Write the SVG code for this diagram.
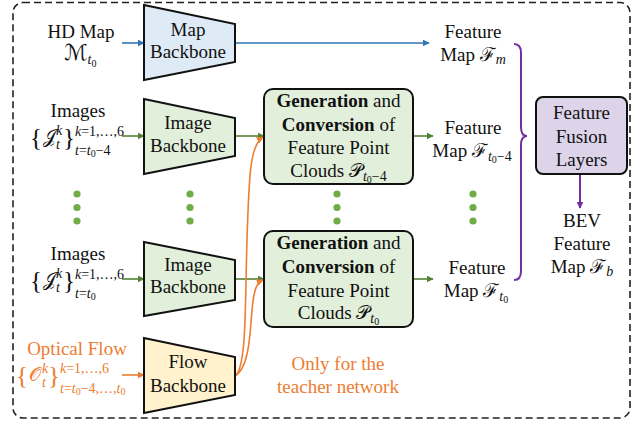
<svg xmlns="http://www.w3.org/2000/svg" width="640" height="421" viewBox="0 0 640 421" font-family="'Liberation Serif', 'Times New Roman', Times, serif">
<defs>
<marker id="ab" viewBox="0 0 10 10" refX="9" refY="5" markerWidth="7" markerHeight="7" markerUnits="userSpaceOnUse" orient="auto"><path d="M0,0 L10,5 L0,10 z" fill="#2e75b6"/></marker>
<marker id="ag" viewBox="0 0 10 10" refX="9" refY="5" markerWidth="7" markerHeight="7" markerUnits="userSpaceOnUse" orient="auto"><path d="M0,0 L10,5 L0,10 z" fill="#548235"/></marker>
<marker id="ao" viewBox="0 0 10 10" refX="9" refY="5" markerWidth="7" markerHeight="7" markerUnits="userSpaceOnUse" orient="auto"><path d="M0,0 L10,5 L0,10 z" fill="#ed7d31"/></marker>
<marker id="ap" viewBox="0 0 10 10" refX="9" refY="5" markerWidth="7" markerHeight="7" markerUnits="userSpaceOnUse" orient="auto"><path d="M0,0 L10,5 L0,10 z" fill="#7030a0"/></marker>
</defs>
<style>
text{font-family:'Liberation Serif','Times New Roman',Times,serif;font-size:19px;fill:#111}
.c{text-anchor:middle}
.m{font-family:'Liberation Serif','DejaVu Serif','DejaVu Sans',serif}
.i{font-style:italic}
.s{font-size:14px}
.ss{font-size:10px}
.br{font-size:25px}
.or{fill:#ed7d31}
.b{font-weight:bold}
.bb{stroke:#111;stroke-width:2;stroke-linejoin:miter}
.blue{fill:#deebf7}
.green{fill:#e2efda}
.yel{fill:#fff2cc}
.pur{fill:#ddd4ea}
.dot{fill:#70ad47}
.lb{stroke:#2e75b6;stroke-width:1.6;fill:none}
.lg{stroke:#548235;stroke-width:1.6;fill:none}
.lo{stroke:#ed7d31;stroke-width:1.6;fill:none}
.lp{stroke:#7030a0;stroke-width:2;fill:none}
</style>
<rect x="13" y="2.5" width="617" height="415.5" rx="10" fill="none" stroke="#222" stroke-width="1.6" stroke-dasharray="7 4"/>

<g id="connectors">
<line class="lb" x1="122" y1="43" x2="144" y2="43" marker-end="url(#ab)"/>
<line class="lb" x1="235" y1="43" x2="429" y2="43" marker-end="url(#ab)"/>
<line class="lg" x1="122" y1="136" x2="144" y2="136" marker-end="url(#ag)"/>
<line class="lg" x1="235" y1="136" x2="264" y2="136" marker-end="url(#ag)"/>
<line class="lg" x1="413" y1="136" x2="433" y2="136" marker-end="url(#ag)"/>
<line class="lg" x1="122" y1="279" x2="144" y2="279" marker-end="url(#ag)"/>
<line class="lg" x1="235" y1="279" x2="264" y2="279" marker-end="url(#ag)"/>
<line class="lg" x1="413" y1="279" x2="433" y2="279" marker-end="url(#ag)"/>
<line class="lo" x1="122" y1="375" x2="144" y2="375" marker-end="url(#ao)"/>
<path class="lo" d="M235,376 C247,368 245,300 247,240 C249,175 250,145 263,137" marker-end="url(#ao)"/>
<path class="lo" d="M235,376 C249,368 250,335 252,310 C254,290 256,283 263,280" marker-end="url(#ao)"/>
<path class="lp" d="M514,44 C519,44 521,47 521,53 L521,127 C521,133 523,136 527,136 C523,136 521,139 521,145 L521,271 C521,277 519,280 514,280"/>
<line class="lp" x1="580" y1="174" x2="580" y2="208" marker-end="url(#ap)"/>
</g>

<g id="dots">
<circle class="dot" cx="77" cy="194" r="3.6"/><circle class="dot" cx="77" cy="207.5" r="3.6"/><circle class="dot" cx="77" cy="221" r="3.6"/>
<circle class="dot" cx="190" cy="194" r="3.6"/><circle class="dot" cx="190" cy="207.5" r="3.6"/><circle class="dot" cx="190" cy="221" r="3.6"/>
<circle class="dot" cx="337" cy="194" r="3.6"/><circle class="dot" cx="337" cy="207.5" r="3.6"/><circle class="dot" cx="337" cy="221" r="3.6"/>
<circle class="dot" cx="473" cy="194" r="3.6"/><circle class="dot" cx="473" cy="207.5" r="3.6"/><circle class="dot" cx="473" cy="221" r="3.6"/>
</g>

<g id="hdmap">
<text class="c" x="81" y="38">HD Map</text>
<text class="m" x="64" y="60"><tspan font-size="22">ℳ</tspan><tspan class="s i" dy="4">t</tspan><tspan class="ss" dy="3">0</tspan></text>
</g>

<g id="map-backbone">
<polygon class="bb blue" points="144,5 235,24 235,62 144,80"/>
<text class="c" x="188" y="36">Map</text>
<text class="c" x="188" y="58">Backbone</text>
</g>

<g id="images1">
<text class="c" x="78" y="117">Images</text>
<text class="m br" x="30" y="146">{</text>
<text class="m" x="43" y="143">𝒥</text>
<text class="m s i" x="56" y="135">k</text>
<text class="m s i" x="56" y="149">t</text>
<text class="m br" x="63" y="146">}</text>
<text class="m s" x="75" y="136"><tspan class="i">k</tspan>=1,…,6</text>
<text class="m s" x="75" y="155"><tspan class="i">t</tspan>=<tspan class="i">t</tspan><tspan class="ss" dy="2">0</tspan><tspan dy="-2">−4</tspan></text>
</g>

<g id="image-backbone-1">
<polygon class="bb green" points="144,99 235,118 235,156 144,174"/>
<text class="c" x="188" y="129">Image</text>
<text class="c" x="188" y="152">Backbone</text>
</g>

<g id="images2">
<text class="c" x="78" y="260">Images</text>
<text class="m br" x="30" y="289">{</text>
<text class="m" x="43" y="286">𝒥</text>
<text class="m s i" x="56" y="278">k</text>
<text class="m s i" x="56" y="292">t</text>
<text class="m br" x="63" y="289">}</text>
<text class="m s" x="75" y="279"><tspan class="i">k</tspan>=1,…,6</text>
<text class="m s" x="75" y="298"><tspan class="i">t</tspan>=<tspan class="i">t</tspan><tspan class="ss" dy="2">0</tspan></text>
</g>

<g id="image-backbone-2">
<polygon class="bb green" points="144,242 235,260 235,300 144,316"/>
<text class="c" x="188" y="271">Image</text>
<text class="c" x="188" y="293">Backbone</text>
</g>

<g id="optical-flow">
<text class="c or" x="77" y="355">Optical Flow</text>
<text class="m br or" x="16" y="384">{</text>
<text class="m or" x="29" y="381">𝒪</text>
<text class="m s i or" x="42" y="373">k</text>
<text class="m s i or" x="42" y="387">t</text>
<text class="m br or" x="48" y="384">}</text>
<text class="m s or" x="60" y="373"><tspan class="i">k</tspan>=1,…,6</text>
<text class="m s or" x="60" y="393"><tspan class="i">t</tspan>=<tspan class="i">t</tspan><tspan class="ss" dy="2">0</tspan><tspan dy="-2">−4,…,</tspan><tspan class="i">t</tspan><tspan class="ss" dy="2">0</tspan></text>
</g>

<g id="flow-backbone">
<polygon class="bb yel" points="144,338 235,357 235,395 144,413"/>
<text class="c" x="188" y="368">Flow</text>
<text class="c" x="188" y="392">Backbone</text>
</g>

<g id="gen-conv-1">
<rect class="bb green" x="264" y="89" width="149" height="95" rx="9"/>
<text class="c" x="338.5" y="107"><tspan class="b">Generation</tspan> and</text>
<text class="c" x="338.5" y="131"><tspan class="b">Conversion</tspan> of</text>
<text class="c" x="338.5" y="154">Feature Point</text>
<text class="c" x="338.5" y="177">Clouds 𝒫<tspan class="s i" dy="4">t</tspan><tspan class="ss" dy="2">0</tspan><tspan class="s" dy="-2">−4</tspan></text>
</g>

<g id="gen-conv-2">
<rect class="bb green" x="264" y="231" width="149" height="96" rx="9"/>
<text class="c" x="338.5" y="249"><tspan class="b">Generation</tspan> and</text>
<text class="c" x="338.5" y="273"><tspan class="b">Conversion</tspan> of</text>
<text class="c" x="338.5" y="297">Feature Point</text>
<text class="c" x="338.5" y="319">Clouds 𝒫<tspan class="s i" dy="4">t</tspan><tspan class="ss" dy="2">0</tspan></text>
</g>

<g id="teacher-note">
<text class="c or" x="338" y="370">Only for the</text>
<text class="c or" x="338" y="393">teacher network</text>
</g>

<g id="feature-map-m">
<text class="c" x="473" y="38">Feature</text>
<text class="c" x="473" y="61">Map ℱ<tspan class="s i" dy="3">m</tspan></text>
</g>

<g id="feature-map-t0-4">
<text class="c" x="473" y="134">Feature</text>
<text class="c" x="472" y="157">Map ℱ<tspan class="s i" dy="4">t</tspan><tspan class="ss" dy="2">0</tspan><tspan class="s" dy="-2">−4</tspan></text>
</g>

<g id="feature-map-t0">
<text class="c" x="477" y="274">Feature</text>
<text class="c" x="476" y="297">Map ℱ<tspan class="s i" dy="4">t</tspan><tspan class="ss" dy="2">0</tspan></text>
</g>

<g id="feature-fusion">
<rect class="bb pur" x="536" y="97" width="91" height="77" rx="7"/>
<text class="c" x="581.5" y="119">Feature</text>
<text class="c" x="581.5" y="143">Fusion</text>
<text class="c" x="581.5" y="166">Layers</text>
</g>

<g id="bev">
<text class="c" x="582" y="227">BEV</text>
<text class="c" x="582" y="250">Feature</text>
<text class="c" x="582" y="273">Map ℱ<tspan class="s i" dy="3">b</tspan></text>
</g>
</svg>
